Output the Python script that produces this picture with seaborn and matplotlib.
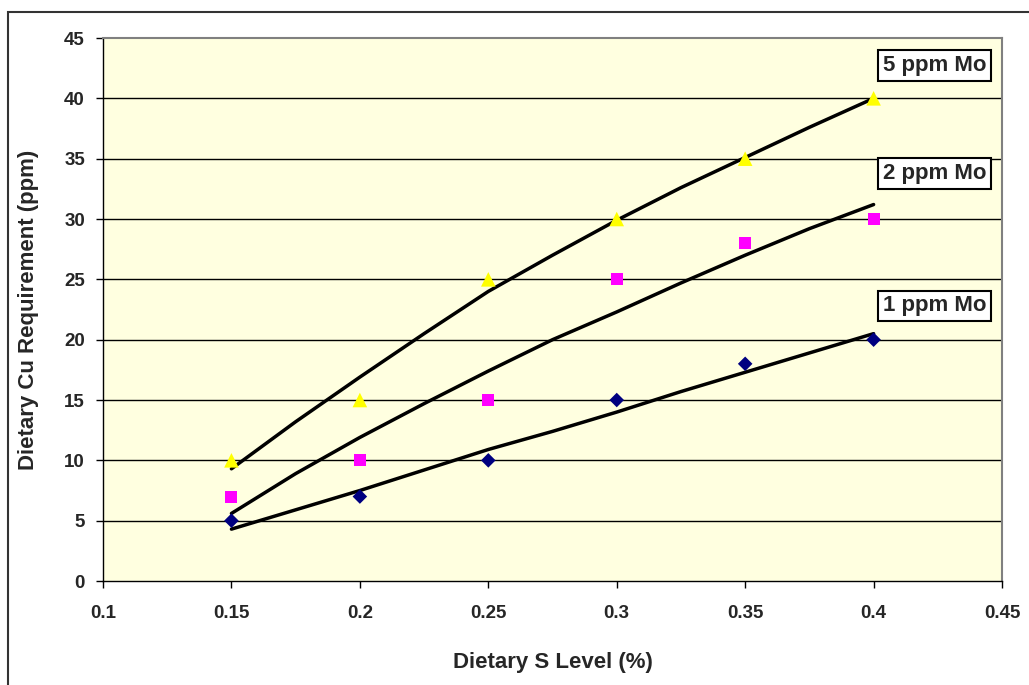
import numpy as np
import pandas as pd
import matplotlib
matplotlib.use("Agg")
import matplotlib.pyplot as plt
import seaborn as sns

# measured points
s_level = [0.15, 0.20, 0.25, 0.30, 0.35, 0.40]
cu_1ppm = [5, 7, 10, 15, 18, 20]
cu_2ppm = [7, 10, 15, 25, 28, 30]
cu_5ppm = [10, 15, 25, 30, 35, 40]

# trend curves
s_curve = [0.15, 0.175, 0.20, 0.225, 0.25, 0.275, 0.30, 0.325, 0.35, 0.375, 0.40]
curve_1ppm = [4.3, 5.9, 7.5, 9.2, 10.9, 12.4, 14.0, 15.7, 17.3, 18.9, 20.5]
curve_2ppm = [5.6, 8.9, 11.9, 14.7, 17.4, 20.0, 22.3, 24.7, 27.0, 29.2, 31.2]
curve_5ppm = [9.3, 13.2, 16.9, 20.5, 24.0, 27.0, 29.9, 32.6, 35.1, 37.6, 40.0]

labels = ["1 ppm Mo", "2 ppm Mo", "5 ppm Mo"]

pts = pd.DataFrame({
    "S": s_level * 3,
    "Cu": cu_1ppm + cu_2ppm + cu_5ppm,
    "Mo": [labels[0]] * 6 + [labels[1]] * 6 + [labels[2]] * 6,
})
crv = pd.DataFrame({
    "S": s_curve * 3,
    "Cu": curve_1ppm + curve_2ppm + curve_5ppm,
    "Mo": [labels[0]] * 11 + [labels[1]] * 11 + [labels[2]] * 11,
})

sns.set_style("white")
plt.rcParams["font.family"] = ["Liberation Sans", "DejaVu Sans"]
plt.rcParams["font.weight"] = "bold"

fig = plt.figure(figsize=(10.29, 6.85), dpi=100)
ax = fig.add_axes([0.1001, 0.1518, 0.8737, 0.7927])
ax.set_facecolor("#ffffe0")

# outer chart frame (cut off at right and bottom like the original)
fig.patches.append(plt.Rectangle((8 / 1029, -0.05), 1.2, 1 - 12 / 685 + 0.05,
                                 transform=fig.transFigure, fill=False,
                                 edgecolor="#333333", linewidth=1.5))

for y in range(5, 45, 5):
    ax.axhline(y, color="black", linewidth=1, zorder=1)

sns.lineplot(data=crv, x="S", y="Cu", units="Mo", estimator=None,
             color="black", linewidth=2.5, ax=ax, zorder=3)

palette = {labels[0]: "#000080", labels[1]: "#ff00ff", labels[2]: "#ffff00"}
markers = {labels[0]: "D", labels[1]: "s", labels[2]: "^"}
sizes_pt = {labels[0]: 55, labels[1]: 75, labels[2]: 110}
for lab in labels:
    sub = pts[pts["Mo"] == lab]
    sns.scatterplot(data=sub, x="S", y="Cu", color=palette[lab],
                    marker=markers[lab], s=sizes_pt[lab], edgecolor="none",
                    ax=ax, zorder=4, legend=False)

ax.set_xlim(0.1, 0.45)
ax.set_ylim(0, 45)
ax.set_xticks(np.arange(0.1, 0.46, 0.05))
ax.set_xticklabels(["0.1", "0.15", "0.2", "0.25", "0.3", "0.35", "0.4", "0.45"])
ax.set_yticks(range(0, 46, 5))
ax.tick_params(axis="both", direction="out", length=5, width=1, color="black",
               labelsize=13.5, bottom=True, left=True)
ax.tick_params(axis="x", pad=12)
ax.tick_params(axis="y", pad=8)
for t in ax.get_xticklabels() + ax.get_yticklabels():
    t.set_fontweight("bold")

ax.set_xlabel("Dietary S Level (%)", fontsize=16, fontweight="bold", labelpad=22)
ax.set_ylabel("Dietary Cu Requirement (ppm)", fontsize=16, fontweight="bold", labelpad=18)

for side in ["left", "bottom"]:
    ax.spines[side].set_color("black")
    ax.spines[side].set_linewidth(1)
for side in ["top", "right"]:
    ax.spines[side].set_color("#808080")
    ax.spines[side].set_linewidth(1.5)

box = dict(boxstyle="square,pad=0.22", facecolor="white", edgecolor="black", linewidth=1.5)
ax.text(0.4237, 42.7, labels[2], ha="center", va="center", fontsize=16,
        fontweight="bold", bbox=box, zorder=5)
ax.text(0.4237, 33.8, labels[1], ha="center", va="center", fontsize=16,
        fontweight="bold", bbox=box, zorder=5)
ax.text(0.4237, 22.8, labels[0], ha="center", va="center", fontsize=16,
        fontweight="bold", bbox=box, zorder=5)

fig.savefig("out.png", dpi=100)
